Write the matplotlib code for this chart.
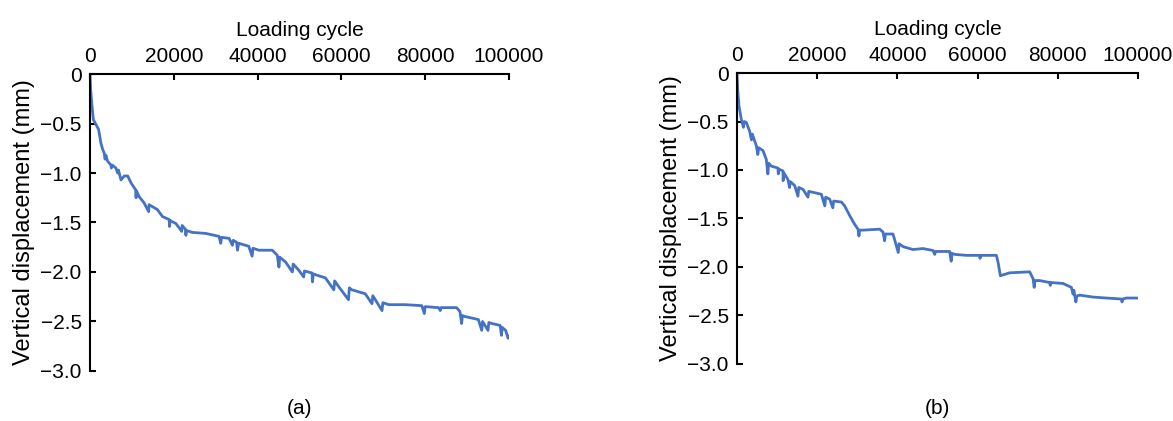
import matplotlib.pyplot as plt

plt.rcParams['font.family'] = ['Liberation Sans', 'DejaVu Sans']

# (a) loading cycle vs. vertical displacement (mm)
cycle_a = [0, 160, 480, 800, 1430, 2060, 2620, 3020, 3400, 3600, 3800, 4200, 5000, 5100, 5300,
           6200, 6600, 6800, 7400, 8200, 9000, 9800, 10900, 11000, 11100, 11750, 12900, 14000,
           14100, 14900, 16100, 17300, 18900, 19000, 19100, 20500, 21900, 22000, 22800, 22900,
           23000, 24400, 27600, 30800, 31200, 31400, 33200, 34000, 34200, 35000, 35200, 35500,
           37900, 38700, 38900, 40300, 43500, 44700, 45100, 45300, 46700, 48300, 48500, 49800,
           51000, 51200, 53000, 53100, 53300, 56200, 58200, 58400, 59400, 61700, 61900, 62500,
           65700, 67300, 67500, 68100, 69700, 69900, 71300, 75200, 79200, 79800, 80000, 83200,
           83600, 83800, 87500, 88300, 88700, 88900, 89500, 92700, 93500, 93700, 95000, 95200,
           95900, 97900, 98200, 98400, 99200, 99800, 100000]
disp_a = [0, -0.16, -0.32, -0.46, -0.51, -0.56, -0.70, -0.76, -0.80, -0.86, -0.82, -0.88, -0.92,
          -0.95, -0.92, -0.95, -1.00, -0.97, -1.07, -1.03, -1.03, -1.10, -1.17, -1.25, -1.18,
          -1.24, -1.30, -1.39, -1.32, -1.34, -1.37, -1.44, -1.47, -1.54, -1.48, -1.51, -1.59,
          -1.53, -1.57, -1.63, -1.58, -1.60, -1.61, -1.64, -1.71, -1.65, -1.66, -1.73, -1.68,
          -1.70, -1.78, -1.71, -1.74, -1.84, -1.76, -1.78, -1.78, -1.83, -1.95, -1.85, -1.90,
          -2.00, -1.92, -1.98, -2.05, -1.99, -2.01, -2.10, -2.02, -2.06, -2.18, -2.09, -2.15,
          -2.28, -2.16, -2.18, -2.22, -2.32, -2.24, -2.28, -2.39, -2.31, -2.33, -2.33, -2.34,
          -2.42, -2.35, -2.36, -2.39, -2.36, -2.36, -2.40, -2.52, -2.44, -2.45, -2.48, -2.59,
          -2.50, -2.59, -2.51, -2.52, -2.54, -2.64, -2.56, -2.59, -2.67, -2.65]

# (b)
cycle_b = [0, 170, 500, 1080, 1600, 1800, 2330, 3160, 3600, 3800, 3990, 4820, 5200, 5400, 6480,
           7300, 7700, 7900, 8560, 10200, 10300, 10400, 11470, 11500, 11700, 12720, 13100, 13300,
           14380, 15200, 15400, 16460, 17700, 17900, 18950, 21030, 21900, 22100, 23110, 23900,
           24100, 26020, 26850, 28100, 29340, 30180, 30400, 30600, 31420, 35580, 36410, 36800,
           37000, 38900, 40200, 40400, 41400, 43890, 46380, 48880, 49300, 49500, 53030, 53400,
           53600, 54280, 57190, 60500, 60600, 60800, 64670, 65090, 65670, 68000, 72980, 73820,
           74100, 74300, 75480, 77970, 78100, 78300, 81300, 83380, 83800, 84000, 84200, 84500,
           84700, 85450, 88780, 92100, 95840, 96000, 96200, 97090, 100000]
disp_b = [0, -0.17, -0.34, -0.48, -0.56, -0.50, -0.51, -0.60, -0.69, -0.63, -0.65, -0.75, -0.84,
          -0.77, -0.80, -0.89, -1.04, -0.93, -0.96, -0.98, -1.04, -0.99, -1.01, -1.11, -1.03,
          -1.10, -1.18, -1.12, -1.16, -1.27, -1.18, -1.20, -1.28, -1.22, -1.23, -1.25, -1.37,
          -1.28, -1.30, -1.39, -1.32, -1.33, -1.37, -1.47, -1.56, -1.61, -1.68, -1.62, -1.62,
          -1.61, -1.64, -1.73, -1.66, -1.66, -1.85, -1.76, -1.79, -1.82, -1.81, -1.83, -1.87,
          -1.84, -1.84, -1.94, -1.86, -1.87, -1.88, -1.88, -1.91, -1.88, -1.88, -1.95, -2.09,
          -2.06, -2.05, -2.12, -2.21, -2.14, -2.14, -2.16, -2.19, -2.16, -2.17, -2.21, -2.28,
          -2.24, -2.29, -2.36, -2.30, -2.29, -2.31, -2.32, -2.33, -2.36, -2.33, -2.32, -2.32]

x_ticks = [0, 20000, 40000, 60000, 80000, 100000]
y_ticks = [0, -0.5, -1.0, -1.5, -2.0, -2.5, -3.0]
y_ticklabels = ['0', '\u22120.5', '\u22121.0', '\u22121.5', '\u22122.0', '\u22122.5', '\u22123.0']

fig = plt.figure(figsize=(11.73, 4.21), dpi=100)
ax1 = fig.add_axes([0.0767, 0.1188, 0.3572, 0.7054])
ax2 = fig.add_axes([0.6283, 0.1354, 0.3419, 0.6912])

for ax, x, y, tag in [(ax1, cycle_a, disp_a, '(a)'), (ax2, cycle_b, disp_b, '(b)')]:
    ax.plot(x, y, color='#4472C4', lw=2)
    ax.set_xlim(0, 100000)
    ax.set_ylim(-3.0, 0)
    ax.set_xticks(x_ticks)
    ax.set_yticks(y_ticks)
    ax.set_yticklabels(y_ticklabels)
    ax.xaxis.tick_top()
    ax.xaxis.set_label_position('top')
    for s in ['right', 'bottom']:
        ax.spines[s].set_visible(False)
    for s in ['top', 'left']:
        ax.spines[s].set_linewidth(1.5)
    ax.tick_params(direction='in', length=4, width=1.5, labelsize=15, pad=6)
    ax.set_xlabel('Loading cycle', fontsize=15, labelpad=8)
    ax.set_ylabel('Vertical displacement (mm)', fontsize=17, labelpad=4)
    pos = ax.get_position()
    fig.text((pos.x0 + pos.x1) / 2, 1 - 408 / 421, tag, ha='center', va='center', fontsize=15)

fig.savefig('out.png', dpi=100)
